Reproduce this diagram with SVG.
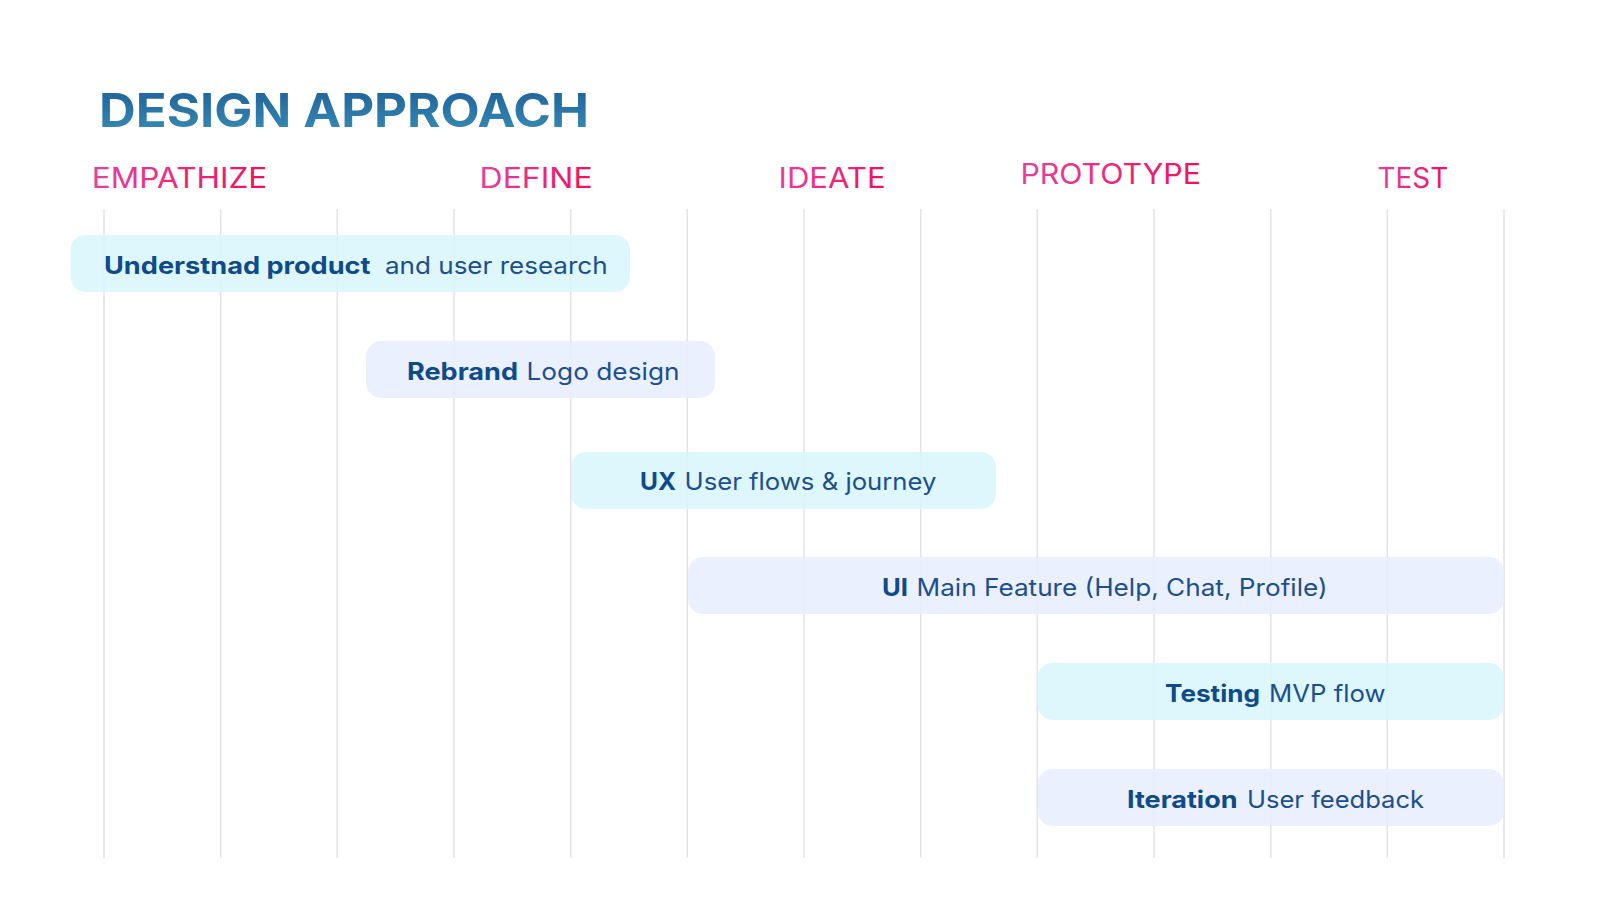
<svg xmlns="http://www.w3.org/2000/svg" width="1600" height="900" viewBox="0 0 1600 900">
<defs>
<linearGradient id="gTitle" x1="0" y1="0" x2="0" y2="1">
<stop offset="0" stop-color="#1b5c95"/>
<stop offset="1" stop-color="#3a8fb8"/>
</linearGradient>
<linearGradient id="gPink" x1="0" y1="0" x2="1" y2="0">
<stop offset="0" stop-color="#e6409e"/>
<stop offset="1" stop-color="#f2105a"/>
</linearGradient>
<style>
.title{font-family:Inter,"Liberation Sans",sans-serif;font-weight:700;font-size:46px;fill:url(#gTitle)}
.phase{font-family:Inter,"Liberation Sans",sans-serif;font-weight:400;font-size:28px;fill:url(#gPink)}
.grid line{stroke:#e3e3e3;stroke-width:1.5}
.barA{fill:#d9f6fd;fill-opacity:0.88}
.barB{fill:#e7eefd;fill-opacity:0.88}
.lbl{font-family:Inter,"Liberation Sans",sans-serif;font-size:24px}
.b{font-weight:700;fill:#0f4a8a}
.r{font-weight:400;fill:#1d4f8e}
</style>
</defs>
<rect width="1600" height="900" fill="#ffffff"/>
<text class="title" x="99" y="126.7" textLength="490" lengthAdjust="spacingAndGlyphs">DESIGN APPROACH</text>
<g id="phases">
<text class="phase" x="91.8" y="187.5" textLength="175.5" lengthAdjust="spacingAndGlyphs">EMPATHIZE</text>
<text class="phase" x="479.6" y="187.5" textLength="113" lengthAdjust="spacingAndGlyphs">DEFINE</text>
<text class="phase" x="778.6" y="187.7" textLength="107" lengthAdjust="spacingAndGlyphs">IDEATE</text>
<text class="phase" x="1020.4" y="184" textLength="180.6" lengthAdjust="spacingAndGlyphs">PROTOTYPE</text>
<text class="phase" x="1377.6" y="187.5" textLength="70.5" lengthAdjust="spacingAndGlyphs">TEST</text>
</g>
<g id="grid" class="grid">
<line x1="104" y1="209" x2="104" y2="858"/>
<line x1="220.7" y1="209" x2="220.7" y2="858"/>
<line x1="337.3" y1="209" x2="337.3" y2="858"/>
<line x1="454" y1="209" x2="454" y2="858"/>
<line x1="570.7" y1="209" x2="570.7" y2="858"/>
<line x1="687.3" y1="209" x2="687.3" y2="858"/>
<line x1="804" y1="209" x2="804" y2="858"/>
<line x1="920.7" y1="209" x2="920.7" y2="858"/>
<line x1="1037.3" y1="209" x2="1037.3" y2="858"/>
<line x1="1154" y1="209" x2="1154" y2="858"/>
<line x1="1270.7" y1="209" x2="1270.7" y2="858"/>
<line x1="1387.3" y1="209" x2="1387.3" y2="858"/>
<line x1="1504" y1="209" x2="1504" y2="858"/>
</g>
<g id="connectors"/>
<g id="bar-understand">
<rect class="barA" x="70.5" y="235" width="559.5" height="57" rx="15"/>
<text class="lbl" y="273.5"><tspan class="b" x="104" textLength="266.5" lengthAdjust="spacingAndGlyphs">Understnad product</tspan><tspan class="r" x="385" textLength="222.6" lengthAdjust="spacingAndGlyphs">and user research</tspan></text>
</g>
<g id="bar-rebrand">
<rect class="barB" x="366" y="341" width="349" height="57" rx="15"/>
<text class="lbl" y="379.5"><tspan class="b" x="407" textLength="111" lengthAdjust="spacingAndGlyphs">Rebrand</tspan><tspan class="r" x="526.5" textLength="153" lengthAdjust="spacingAndGlyphs">Logo design</tspan></text>
</g>
<g id="bar-ux">
<rect class="barA" x="571" y="452" width="425" height="57" rx="15"/>
<text class="lbl" y="489.5"><tspan class="b" x="640" textLength="36" lengthAdjust="spacingAndGlyphs">UX</tspan><tspan class="r" x="684.5" textLength="252" lengthAdjust="spacingAndGlyphs">User flows &amp; journey</tspan></text>
</g>
<g id="bar-ui">
<rect class="barB" x="688" y="557" width="816" height="57" rx="15"/>
<text class="lbl" y="595.5"><tspan class="b" x="882" textLength="26" lengthAdjust="spacingAndGlyphs">UI</tspan><tspan class="r" x="916.5" textLength="411" lengthAdjust="spacingAndGlyphs">Main Feature (Help, Chat, Profile)</tspan></text>
</g>
<g id="bar-testing">
<rect class="barA" x="1037.5" y="663" width="466.5" height="57" rx="15"/>
<text class="lbl" y="702"><tspan class="b" x="1165" textLength="95" lengthAdjust="spacingAndGlyphs">Testing</tspan><tspan class="r" x="1269" textLength="116.5" lengthAdjust="spacingAndGlyphs">MVP flow</tspan></text>
</g>
<g id="bar-iteration">
<rect class="barB" x="1037.5" y="769" width="466.5" height="57" rx="15"/>
<text class="lbl" y="807.5"><tspan class="b" x="1127" textLength="110.5" lengthAdjust="spacingAndGlyphs">Iteration</tspan><tspan class="r" x="1247" textLength="177" lengthAdjust="spacingAndGlyphs">User feedback</tspan></text>
</g>
</svg>
